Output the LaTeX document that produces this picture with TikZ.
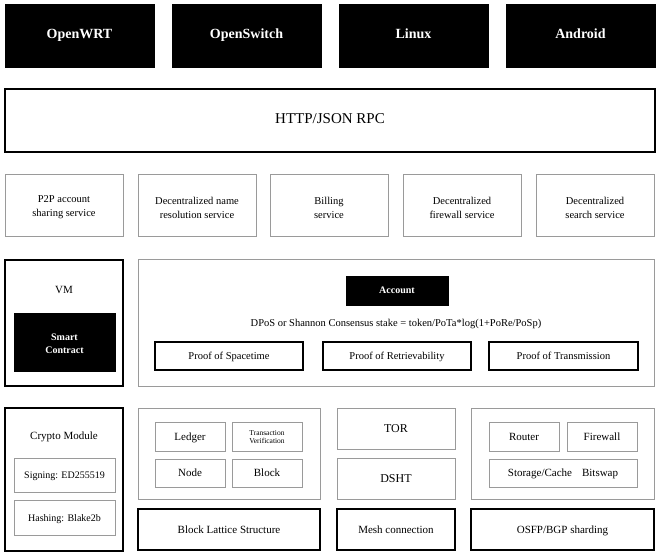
\documentclass[tikz,border=0pt]{standalone}
\usepackage{fontspec}
\setmainfont{Liberation Serif}
\definecolor{gline}{HTML}{9A9A9A}
\tikzset{
  one/.style={text height=0.82em, text depth=0.12em},
  two/.style={yshift=-1.5pt},
  blk/.style={draw=black, fill=black, text=white, font=\bfseries\fontsize{14}{16}\selectfont, inner sep=0pt},
  bbox/.style={draw=black, line width=1.1pt, fill=white, inner sep=0pt, align=center},
  gbox/.style={draw=gline, line width=1pt, fill=white, inner sep=0pt, align=center},
  svc/.style={gbox, minimum width=118pt, minimum height=62pt, font=\fontsize{10.5}{14}\selectfont},
  prf/.style={bbox, one, minimum width=148pt, minimum height=28pt, font=\fontsize{10.5}{12}\selectfont},
  sm/.style={gbox, minimum width=70pt, minimum height=29pt, font=\fontsize{11}{12}\selectfont},
  lbl/.style={inner sep=0pt, align=center, one}
}
\begin{document}
\begin{tikzpicture}[x=1pt,y=-1pt]
\useasboundingbox[fill=white] (0,0) rectangle (662,556);
% top OS boxes
\node[blk, one, minimum width=149pt, minimum height=63pt] (owrt) at (79.5,35.5) {OpenWRT};
\node[blk, one, minimum width=149pt, minimum height=63pt] (osw) at (246.5,35.5) {OpenSwitch};
\node[blk, one, minimum width=149pt, minimum height=63pt] (lnx) at (413.5,35.5) {Linux};
\node[blk, one, minimum width=149pt, minimum height=63pt] (andr) at (580.5,35.5) {Android};
% RPC
\node[bbox, one, minimum width=650pt, minimum height=63pt, font=\fontsize{15}{17}\selectfont] (rpc) at (330,120.5) {HTTP/JSON RPC};
% services
\node[svc] (p2p) at (64,206) {};
\node[lbl, two, text height=, text depth=, font=\fontsize{10.5}{14}\selectfont] (p2pt) at (p2p) {P2P account\\sharing service};
\node[svc] (dns) at (197,206) {};
\node[lbl, two, text height=, text depth=, font=\fontsize{10.5}{14}\selectfont] (dnst) at (dns) {Decentralized name\\resolution service};
\node[svc] (bill) at (329,206) {};
\node[lbl, two, text height=, text depth=, font=\fontsize{10.5}{14}\selectfont] (billt) at (bill) {Billing\\service};
\node[svc] (fw) at (462,206) {};
\node[lbl, two, text height=, text depth=, font=\fontsize{10.5}{14}\selectfont] (fwt) at (fw) {Decentralized\\firewall service};
\node[svc] (srch) at (595,206) {};
\node[lbl, two, text height=, text depth=, font=\fontsize{10.5}{14}\selectfont] (srcht) at (srch) {Decentralized\\search service};
% VM
\node[bbox, minimum width=118pt, minimum height=126pt] (vm) at (64,323) {};
\node[lbl, font=\fontsize{11}{12}\selectfont] (vml) at (64,290) {VM};
\node[blk, minimum width=101pt, minimum height=58pt] (sc) at (64.5,342) {};
\node[lbl, two, text height=, text depth=, text=white, font=\bfseries\fontsize{10}{13}\selectfont] (sct) at (sc) {Smart\\Contract};
% consensus
\node[gbox, minimum width=516pt, minimum height=126pt] (cons) at (396,323) {};
\node[blk, one, minimum width=102pt, minimum height=29pt, font=\bfseries\fontsize{10}{12}\selectfont] (acct) at (397,290.5) {Account};
\node[lbl, font=\fontsize{10.5}{12}\selectfont] (dpos) at (396,323) {DPoS or Shannon Consensus stake = token/PoTa*log(1+PoRe/PoSp)};
\node[prf] (pst) at (229,356) {Proof of Spacetime};
\node[prf] (pre) at (397,356) {Proof of Retrievability};
\node[prf, minimum width=149pt] (ptr) at (563.5,356) {Proof of Transmission};
% crypto
\node[bbox, minimum width=118pt, minimum height=143pt] (cry) at (64,479.5) {};
\node[lbl, font=\fontsize{11}{12}\selectfont] (cryl) at (64,436) {Crypto Module};
\node[gbox, one, minimum width=101pt, minimum height=34pt, font=\fontsize{10}{12}\selectfont] (sig) at (64.5,475) {Signing: ED255519};
\node[gbox, one, minimum width=101pt, minimum height=35pt, font=\fontsize{10}{12}\selectfont] (hsh) at (64.5,517.5) {Hashing: Blake2b};
% ledger group
\node[gbox, minimum width=182pt, minimum height=91pt] (lg) at (229,453.5) {};
\node[sm, one] (led) at (190,436.5) {Ledger};
\node[sm] (tv) at (267,436.5) {};
\node[lbl, text height=, text depth=, yshift=-0.5pt, font=\fontsize{7.5}{8}\selectfont] (tvt) at (tv) {Transaction\\Verification};
\node[sm, one, minimum height=28pt] (nd) at (190,473) {Node};
\node[sm, one, minimum height=28pt] (blkn) at (267,473) {Block};
\node[bbox, one, minimum width=182pt, minimum height=41pt, font=\fontsize{11}{12}\selectfont] (bls) at (229,529.5) {Block Lattice Structure};
% network
\node[gbox, one, minimum width=118pt, minimum height=41pt, font=\fontsize{12}{13}\selectfont] (tor) at (396,428.5) {TOR};
\node[gbox, one, minimum width=118pt, minimum height=41pt, font=\fontsize{12}{13}\selectfont] (dsht) at (396,478.5) {DSHT};
\node[bbox, one, minimum width=118pt, minimum height=41pt, font=\fontsize{11}{12}\selectfont] (mesh) at (396,529.5) {Mesh connection};
% router group
\node[gbox, minimum width=183pt, minimum height=91pt] (rg) at (562.5,453.5) {};
\node[sm, one] (rtr) at (524,436.5) {Router};
\node[sm, one] (fwl) at (602,436.5) {Firewall};
\node[sm, one, minimum width=148pt, minimum height=28pt] (stc) at (563,473) {Storage/Cache\hspace{10pt}Bitswap};
\node[bbox, one, minimum width=183pt, minimum height=41pt, font=\fontsize{11}{12}\selectfont] (osfp) at (562.5,529.5) {OSFP/BGP sharding};
\end{tikzpicture}
\end{document}
